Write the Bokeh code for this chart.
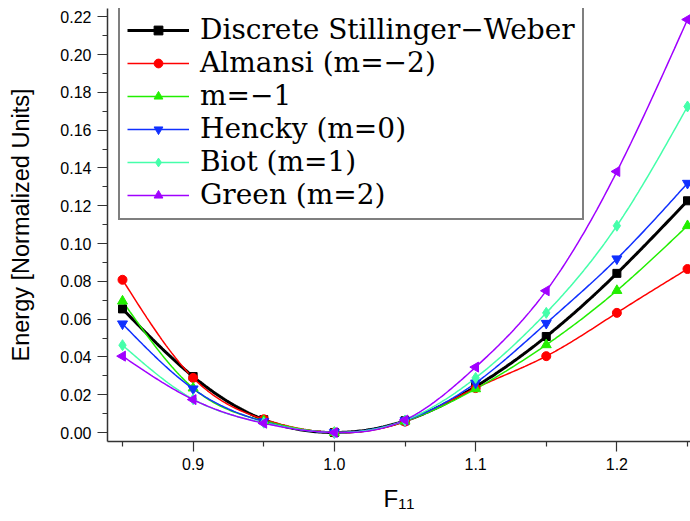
import numpy as np
from bokeh.plotting import figure
from bokeh.models import (Range1d, FixedTicker, NumeralTickFormatter, Legend, LegendItem,
                          ColumnDataSource)
from bokeh.embed import file_html
from bokeh.resources import INLINE

# ---- data ----
F11 = [0.85, 0.90, 0.95, 1.00, 1.05, 1.10, 1.15, 1.20, 1.25]
sw      = [0.0654, 0.0296, 0.0068, 0.0, 0.0062, 0.0243, 0.0508, 0.0842, 0.1226]
almansi = [0.0808, 0.0289, 0.0070, 0.0, 0.0058, 0.0235, 0.0404, 0.0633, 0.0865]
m_neg1  = [0.0695, 0.0235, 0.0062, 0.0, 0.0060, 0.0231, 0.0464, 0.0751, 0.1094]
hencky  = [0.0575, 0.0231, 0.0058, 0.0, 0.0063, 0.0262, 0.0578, 0.0919, 0.1319]
biot    = [0.0462, 0.0176, 0.0052, 0.0, 0.0064, 0.0289, 0.0633, 0.1094, 0.1725]
green   = [0.0404, 0.0174, 0.0049, 0.0, 0.0066, 0.0346, 0.0750, 0.1381, 0.2185]

names = ["Discrete Stillinger\u2212Weber", "Almansi (m=\u22122)", "m=\u22121",
         "Hencky (m=0)", "Biot (m=1)", "Green (m=2)"]
series = [sw, almansi, m_neg1, hencky, biot, green]
colors = ["#000000", "#FF0000", "#22EE00", "#1030FF", "#44FFAA", "#A000FF"]
markers = ["square", "circle", "triangle", "inverted_triangle", "diamond", "triangle"]
angles = [0, 0, 0, 0, 0, np.pi / 2]
msizes = [8, 9, 10, 10, 11, 10]
lwidths = [3, 1.5, 1.5, 1.5, 1.5, 1.5]

x_major = [0.9, 1.0, 1.1, 1.2]
x_minor = [0.85, 0.95, 1.05, 1.15, 1.25]
y_major = [0.00, 0.02, 0.04, 0.06, 0.08, 0.10, 0.12, 0.14, 0.16, 0.18, 0.20, 0.22]
y_minor = [0.01, 0.03, 0.05, 0.07, 0.09, 0.11, 0.13, 0.15, 0.17, 0.19, 0.21]


def natural_spline(x, y, n=300):
    x = np.asarray(x, float); y = np.asarray(y, float)
    k = len(x); h = np.diff(x)
    A = np.zeros((k, k)); r = np.zeros(k)
    A[0, 0] = A[-1, -1] = 1
    for i in range(1, k - 1):
        A[i, i - 1] = h[i - 1]; A[i, i] = 2 * (h[i - 1] + h[i]); A[i, i + 1] = h[i]
        r[i] = 6 * ((y[i + 1] - y[i]) / h[i] - (y[i] - y[i - 1]) / h[i - 1])
    M = np.linalg.solve(A, r)
    xs = np.linspace(x[0], x[-1], n)
    idx = np.clip(np.searchsorted(x, xs) - 1, 0, k - 2)
    x0, x1 = x[idx], x[idx + 1]; hh = x1 - x0
    a = (x1 - xs) / hh; b = (xs - x0) / hh
    ys = a * y[idx] + b * y[idx + 1] + ((a ** 3 - a) * M[idx] + (b ** 3 - b) * M[idx + 1]) * hh ** 2 / 6
    return xs, ys


p = figure(width=690, height=521, output_backend="svg", toolbar_location=None,
           x_range=Range1d(0.83938, 1.25212), y_range=Range1d(-0.00476, 0.22434),
           min_border_left=107, min_border_right=0, min_border_top=8, min_border_bottom=80)
p.outline_line_color = None
p.xgrid.visible = False
p.ygrid.visible = False
p.background_fill_color = "white"
p.border_fill_color = "white"

for ax in (p.xaxis[0], p.yaxis[0]):
    ax.axis_line_color = "#333333"
    ax.axis_line_width = 1.5
    ax.major_tick_line_color = "#333333"
    ax.minor_tick_line_color = "#333333"
    ax.major_tick_line_width = 1.2
    ax.minor_tick_line_width = 1.2
    ax.major_tick_out = 10
    ax.major_tick_in = 0
    ax.minor_tick_out = 5
    ax.minor_tick_in = 0
    ax.major_label_text_font = "Liberation Sans"
    ax.major_label_text_font_size = "16px"
    ax.major_label_text_color = "black"
    ax.axis_label_text_font = "Liberation Sans"
    ax.axis_label_text_font_style = "normal"
    ax.axis_label_text_color = "black"

p.xaxis.ticker = FixedTicker(ticks=x_major, minor_ticks=x_minor)
p.yaxis.ticker = FixedTicker(ticks=y_major, minor_ticks=y_minor)
p.xaxis.formatter = NumeralTickFormatter(format="0.0")
p.yaxis.formatter = NumeralTickFormatter(format="0.00")
p.xaxis.major_label_standoff = 6
p.yaxis.major_label_standoff = 6

p.yaxis.axis_label = "Energy [Normalized Units]"
p.yaxis.axis_label_text_font_size = "23.5px"
p.yaxis.axis_label_standoff = 23
p.xaxis.axis_label = "F\u2081\u2081"
p.xaxis.axis_label_text_font_size = "24px"
p.xaxis.axis_label_standoff = 12

line_rs, marker_rs, gap_rs = [], [], []
for ys, c, lw in zip(series, colors, lwidths):
    sx, sy = natural_spline(F11, ys)
    line_rs.append(p.line(sx, sy, line_color=c, line_width=lw))
# legend-only white gap around the sample marker (no data in the plot)
for c in colors:
    gap_rs.append(p.scatter(x=[], y=[], marker="square", size=8, fill_color="white",
                            line_color="white", line_width=14))
for ys, c, mk, ang, ms in zip(series, colors, markers, angles, msizes):
    src = ColumnDataSource(dict(x=F11, y=ys))
    marker_rs.append(p.scatter("x", "y", source=src, marker=mk, angle=ang, size=ms,
                               fill_color=c, line_color=c))

items = [LegendItem(label=n, renderers=[lr, gr, mr])
         for n, lr, gr, mr in zip(names, line_rs, gap_rs, marker_rs)]

legend = Legend(items=items, location=(11, 221))
legend.label_text_font = "DejaVu Serif"
legend.label_text_font_size = "28px"
legend.label_text_color = "black"
legend.glyph_width = 62
legend.glyph_height = 22
legend.label_standoff = 11
legend.spacing = 0
legend.padding = 7
legend.margin = 0
legend.border_line_color = "black"
legend.border_line_width = 2
legend.background_fill_alpha = 1
p.add_layout(legend, "center")

open("out.html", "w").write(file_html(p, INLINE))
